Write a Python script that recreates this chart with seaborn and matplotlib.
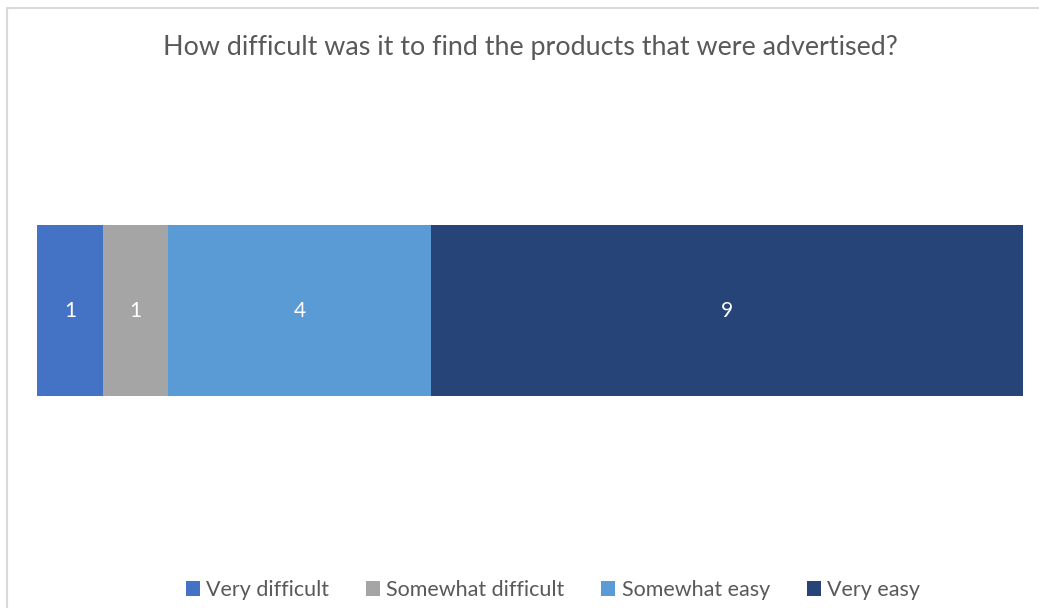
import matplotlib
matplotlib.use("Agg")
import matplotlib.pyplot as plt
from matplotlib.lines import Line2D
from matplotlib.patches import Patch
import seaborn as sns
import pandas as pd
import numpy as np

title = "How difficult was it to find the products that were advertised?"
categories = ["Very difficult", "Somewhat difficult", "Somewhat easy", "Very easy"]
counts = [1, 1, 4, 9]
colors = ["#4472C4", "#A5A5A5", "#5B9BD5", "#264478"]

sns.set_theme(style="white")
plt.rcParams["font.family"] = ["Lato", "DejaVu Sans"]

fig = plt.figure(figsize=(10.39, 6.08), dpi=100)
W, H = 1039, 608
ax = fig.add_axes([37 / W, (H - 396) / H, (1023 - 37) / W, (396 - 225) / H])

cum = np.cumsum(counts)
starts = cum - np.array(counts)
# Stacked bar: draw cumulative totals from largest to smallest so each segment shows
for i in reversed(range(len(categories))):
    df = pd.DataFrame({"value": [cum[i]], "row": ["q"]})
    sns.barplot(data=df, x="value", y="row", orient="h", color=colors[i],
                width=1.0, saturation=1, ax=ax, linewidth=0)

for s, c in zip(starts, counts):
    ax.text(s + c / 2, 0, str(c), ha="center", va="center",
            color="white", fontsize=15)

ax.set_xlim(0, sum(counts))
ax.set_ylim(0.5, -0.5)
ax.axis("off")

fig.text(530 / W, 1 - 48 / H, title, ha="center", va="center",
         fontsize=19.4, color="#595959")

handles = [Patch(facecolor=c, edgecolor="none") for c in colors]
fig.legend(handles, categories, loc="center", bbox_to_anchor=(553 / W, 1 - 590 / H),
           ncol=4, frameon=False, fontsize=15.5, handlelength=0.65, handleheight=0.65,
           handletextpad=0.3, columnspacing=1.7, labelcolor="#595959")

# Chart frame (top and left edges)
fig.add_artist(Line2D([7 / W, 1], [1 - 8 / H, 1 - 8 / H], color="#D9D9D9", lw=1.5))
fig.add_artist(Line2D([7 / W, 7 / W], [0, 1 - 8 / H], color="#D9D9D9", lw=1.5))

fig.savefig("out.png", dpi=100, facecolor="white")
